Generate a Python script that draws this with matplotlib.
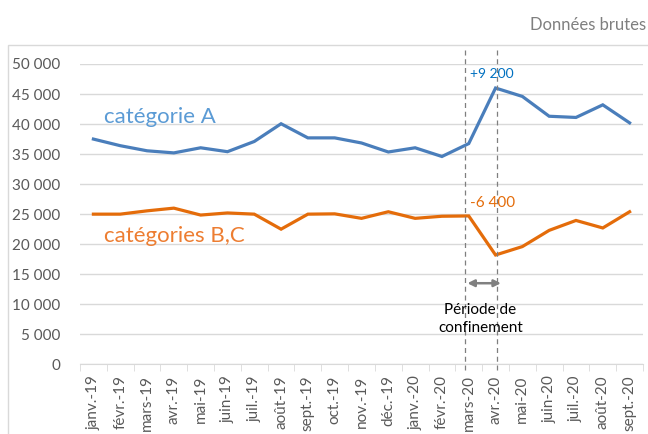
import matplotlib
matplotlib.use("Agg")
import matplotlib.pyplot as plt
from matplotlib.patches import Rectangle
from matplotlib.ticker import FuncFormatter, MultipleLocator

plt.rcParams['font.family'] = ['Lato', 'DejaVu Sans']

# Données mensuelles
months = ["janv.-19", "févr.-19", "mars-19", "avr.-19", "mai-19", "juin-19",
          "juil.-19", "août-19", "sept.-19", "oct.-19", "nov.-19", "déc.-19",
          "janv.-20", "févr.-20", "mars-20", "avr.-20", "mai-20", "juin-20",
          "juil.-20", "août-20", "sept.-20"]
cat_a = [37500, 36400, 35550, 35200, 36050, 35400, 37100, 40050, 37700,
         37700, 36850, 35350, 36050, 34600, 36750, 46000, 44600, 41300,
         41100, 43200, 40200]
cat_bc = [25000, 25000, 25550, 26000, 24850, 25200, 25000, 22500, 25000,
          25050, 24300, 25400, 24300, 24650, 24700, 18200, 19600, 22300,
          23950, 22700, 25400]

BLUE = "#4A7EBB"
ORANGE = "#E46C0A"
GRID = "#D9D9D9"
TXT = "#595959"


def thousands(v, pos):
    return "{:,.0f}".format(v).replace(",", " ")


def main():
    fig = plt.figure(figsize=(6.48, 4.34), dpi=100)
    # cadre du graphique
    fig.patches.append(Rectangle((8 / 648, -0.1), 1.2, 1.1 - 45 / 434,
                                 transform=fig.transFigure, fill=False,
                                 edgecolor=GRID, linewidth=1))
    ax = fig.add_axes([80 / 648, 1 - 364.3 / 434, 563 / 648, 300.3 / 434])

    x = list(range(len(months)))
    ax.plot(x, cat_a, color=BLUE, linewidth=2.3, solid_joinstyle="miter")
    ax.plot(x, cat_bc, color=ORANGE, linewidth=2.3, solid_joinstyle="miter")

    ax.set_xlim(-0.5, len(months) - 0.5)
    ax.set_ylim(0, 50000)
    ax.yaxis.set_major_locator(MultipleLocator(5000))
    ax.yaxis.set_major_formatter(FuncFormatter(thousands))
    ax.grid(axis="y", color=GRID, linewidth=1)
    ax.set_axisbelow(True)

    ax.set_xticks(x)
    ax.set_xticklabels(months, rotation=90, fontsize=11, color=TXT)
    ax.set_xticks([i - 0.5 for i in range(len(months) + 1)], minor=True)
    ax.tick_params(axis="x", which="major", length=0, pad=8)
    ax.tick_params(axis="x", which="minor", length=5, color=GRID)
    ax.tick_params(axis="y", length=0, labelsize=11, labelcolor=TXT, pad=14)
    for s in ["top", "right", "left"]:
        ax.spines[s].set_visible(False)
    ax.spines["bottom"].set_color(GRID)

    # période de confinement
    for xv in [13.85, 15.07]:
        ax.plot([xv, xv], [-1000, 52400], color="#7F7F7F", linewidth=0.9,
                dashes=(4, 3), clip_on=False)
    ax.annotate("", xy=(13.95, 13500), xytext=(15.2, 13500),
                arrowprops=dict(arrowstyle="<|-|>", color="#808080", lw=1.8,
                                mutation_scale=10, shrinkA=0, shrinkB=0))
    ax.text(14.43, 7550, "Période de\nconfinement", ha="center", va="center",
            fontsize=11, color="black", linespacing=1.3)

    ax.text(14.06, 48400, "+9 200", color="#0070C0", fontsize=10,
            ha="left", va="center")
    ax.text(14.06, 26900, "-6 400", color="#E46C0A", fontsize=11,
            ha="left", va="center")
    ax.text(0.4, 41200, "catégorie A", color="#5B9BD5", fontsize=16,
            ha="left", va="center")
    ax.text(0.4, 21400, "catégories B,C", color="#ED7D31", fontsize=16,
            ha="left", va="center")

    fig.text(646 / 648, 1 - 25 / 434, "Données brutes", color="#7F7F7F",
             fontsize=12, ha="right", va="center")

    fig.savefig("out.png", dpi=100)


if __name__ == "__main__":
    main()
